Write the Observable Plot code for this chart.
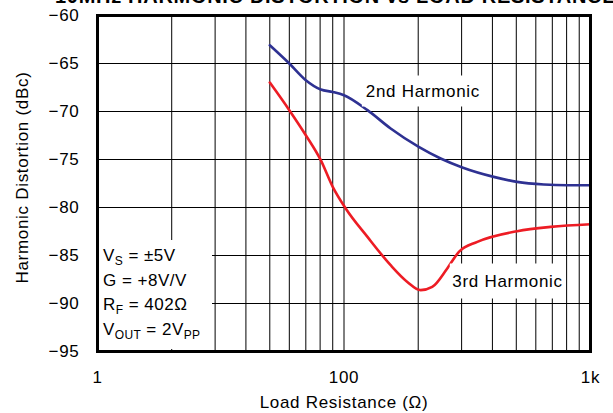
<!DOCTYPE html>
<html><head><meta charset="utf-8">
<script src="https://cdn.jsdelivr.net/npm/d3@7"></script>
<script src="https://cdn.jsdelivr.net/npm/@observablehq/plot@0.6"></script>
<style>
body{margin:0;background:#fff;}
#wrap{position:relative;width:613px;height:413px;overflow:hidden;font-family:"Liberation Sans",Arial,Helvetica,sans-serif;color:#000;}
#wrap svg{position:absolute;left:0;top:0;}
.title{position:absolute;left:55px;top:-14px;font-size:20px;font-weight:bold;letter-spacing:0.7px;white-space:nowrap;line-height:20px;}
.lbl{position:absolute;background:#fff;font-size:17px;letter-spacing:0.7px;white-space:nowrap;line-height:17px;transform:translate(-50%,-50%);}
.cbox{position:absolute;background:#fff;}
.cond{position:absolute;font-size:17px;letter-spacing:0.5px;white-space:nowrap;line-height:17px;}
.cond .s{font-size:12px;position:relative;top:4px;letter-spacing:0.3px;}
</style></head><body><div id="wrap"></div>
<script>
// Data
const titleText = "10MHz HARMONIC DISTORTION vs LOAD RESISTANCE";
const resistance2 = [50, 60, 70, 80.5, 90, 100, 124.5, 154.6, 201, 246.6, 302, 405, 504, 647, 805, 1000];
const harmonic2   = [-63.1, -65.0, -66.74, -67.71, -67.96, -68.3, -69.86, -71.77, -73.69, -74.9, -75.83, -76.81, -77.33, -77.6, -77.68, -77.68];
const resistance3 = [50, 60, 70, 80.5, 90, 101.6, 124.5, 154.6, 180.7, 204.6, 228, 262.3, 292.5, 347.4, 504, 689, 1000];
const harmonic3   = [-66.98, -69.86, -72.47, -75.07, -77.85, -80.1, -83.06, -86.01, -87.75, -88.61, -88.27, -86.35, -84.62, -83.58, -82.47, -82.02, -81.74];
const xTicks = [10, 100, 1000];
const xTickLabels = ["1", "100", "1k"];
const yTicks = [-95, -90, -85, -80, -75, -70, -65, -60];
const gridX = [10, 20, 30, 40, 50, 60, 70, 80, 90, 100, 200, 300, 400, 500, 600, 700, 800, 900, 1000];
const xLabel = "Load Resistance (Ω)";
const yLabel = "Harmonic Distortion (dBc)";
const curveLabels = ["2nd Harmonic", "3rd Harmonic"];
const curveLabelX = [210, 463];
const curveLabelY = [-67.9, -87.7];
const conditions = ["V<span class='s'>S</span> = ±5V", "G = +8V/V", "R<span class='s'>F</span> = 402Ω", "V<span class='s'>OUT</span> = 2V<span class='s'>PP</span>"];

const d2 = resistance2.map((r, i) => ({r, v: harmonic2[i]}));
const d3 = resistance3.map((r, i) => ({r, v: harmonic3[i]}));

const plot = Plot.plot({
  width: 613, height: 413,
  marginLeft: 97, marginRight: 23, marginTop: 15, marginBottom: 62,
  style: {fontFamily: '"Liberation Sans", Arial, Helvetica, sans-serif', fontSize: "17px", letterSpacing: "0.7px", color: "#000", background: "transparent"},
  x: {type: "log", domain: [10, 1000]},
  y: {domain: [-95, -60]},
  marks: [
    Plot.ruleX(gridX, {stroke: "#000", strokeWidth: 1}),
    Plot.ruleY(yTicks, {stroke: "#000", strokeWidth: 1}),
    Plot.line(d2, {x: "r", y: "v", stroke: "#2e3192", strokeWidth: 2.6, curve: "monotone-x"}),
    Plot.line(d3, {x: "r", y: "v", stroke: "#ed1c24", strokeWidth: 2.6, curve: "monotone-x"}),
    Plot.frame({stroke: "#000", strokeWidth: 3}),
    Plot.axisX({ticks: xTicks, tickSize: 0, tickPadding: 19, tickFormat: d => xTickLabels[xTicks.indexOf(d)], label: null}),
    Plot.axisY({ticks: yTicks, tickSize: 0, tickPadding: 18, label: null}),
    Plot.text([xLabel], {frameAnchor: "bottom", dy: 56, fill: "#000"}),
    Plot.text([yLabel], {frameAnchor: "left", textAnchor: "middle", dx: -75, dy: -6, rotate: -90, fill: "#000"})
  ]
});

const wrap = document.getElementById("wrap");
wrap.appendChild(plot);

const sx = plot.scale("x"), sy = plot.scale("y");

// curve labels with white background
curveLabels.forEach((t, i) => {
  const d = document.createElement("div");
  d.className = "lbl";
  d.textContent = t;
  d.style.left = sx.apply(curveLabelX[i]) + "px";
  d.style.top = sy.apply(curveLabelY[i]) + "px";
  d.style.padding = i === 0 ? "7px 4px" : "9px 3px";
  wrap.appendChild(d);
});

// conditions box
const box = document.createElement("div");
box.className = "cbox";
box.style.left = "99px"; box.style.top = "240px"; box.style.width = "113px"; box.style.height = "109px";
wrap.appendChild(box);
conditions.forEach((c, i) => {
  const d = document.createElement("div");
  d.className = "cond";
  d.innerHTML = c;
  d.style.left = "103px";
  d.style.top = (261.7 - 14.4 + i * 24.4) + "px";
  wrap.appendChild(d);
});

// title (mostly cut off at top, as in the reference)
const ti = document.createElement("div");
ti.className = "title";
ti.textContent = titleText;
wrap.appendChild(ti);
</script>
</body></html>
